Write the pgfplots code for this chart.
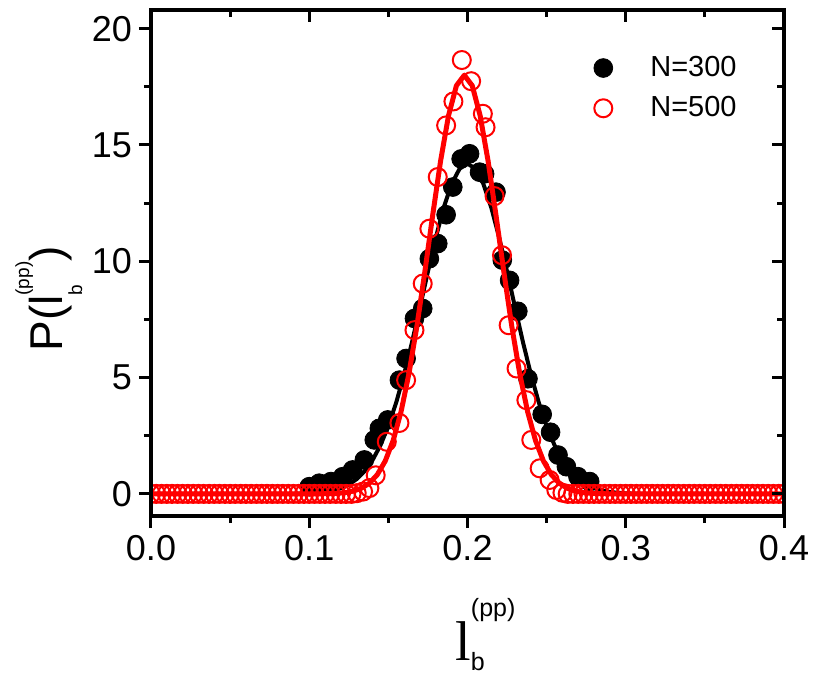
\documentclass[border=0pt]{standalone}
\usepackage{pgfplots}
\pgfplotsset{compat=1.18}
\usepackage{fontspec}
\setmainfont{Liberation Sans}
\newfontfamily\seriffont{Liberation Serif}
\pgfplotsset{mylegend/.style={legend image code/.code={\path[draw=none,fill=none] (0pt,-5pt) rectangle (43pt,5pt); \draw[mark repeat=2,mark phase=2,##1] plot coordinates {(0pt,0pt) (21.5pt,0pt) (43pt,0pt)};}}}
\begin{document}
\begin{tikzpicture}
\begin{axis}[
  at={(0pt,0pt)}, anchor=south west,
  scale only axis, width=316.5pt, height=253pt,
  xmin=0, xmax=0.4, ymin=-0.95, ymax=20.8,
  xtick={0,0.1,0.2,0.3,0.4}, xticklabels={0.0,0.1,0.2,0.3,0.4},
  minor xtick={0.05,0.15,0.25,0.35},
  ytick={0,5,10,15,20}, yticklabels={0,5,10,15,20},
  minor ytick={2.5,7.5,12.5,17.5},
  xtick pos=bottom, ytick pos=left,
  tick align=outside,
  major tick length=6pt, minor tick length=3.5pt,
  tick style={line width=1.5pt, black},
  axis line style={line width=2pt},
  ticklabel style={font=\fontsize{18}{21.6}\selectfont},
  clip marker paths=true,
  legend style={draw=none, fill=none, at={(0.646,0.917)}, anchor=north west,
    inner sep=0pt, font=\fontsize{14.5}{17}\selectfont, row sep=4.5pt,
    nodes={inner sep=2pt}},
  legend cell align=left,
]
\addplot[only marks, mark=*, mark size=4.7pt, black, mylegend] coordinates {
(0.1000,0.31) (0.1063,0.46) (0.1137,0.53) (0.1211,0.74) (0.1274,1.03)
(0.1348,1.46) (0.1411,2.32) (0.1443,2.82) (0.1496,3.18) (0.1570,4.89)
(0.1612,5.82) (0.1665,7.54) (0.1717,7.97) (0.1759,10.11) (0.1812,10.76)
(0.1865,12.00) (0.1907,13.19) (0.1960,14.40) (0.2013,14.62) (0.2076,13.83)
(0.2108,13.76) (0.2180,12.97) (0.2220,10.05) (0.2266,9.18) (0.2318,7.85)
(0.2382,4.95) (0.2472,3.42) (0.2525,2.65) (0.2572,1.67) (0.2625,1.17)
(0.2698,0.74) (0.2772,0.53)
};
\addlegendentry{N=300}
\addplot[forget plot, black, line width=2pt, line join=round] coordinates {
(0,0) (0.09,0.002) (0.10,0.025) (0.105,0.047) (0.11,0.084) (0.115,0.146)
(0.12,0.247) (0.125,0.403) (0.13,0.638) (0.135,0.978) (0.14,1.453)
(0.145,2.091) (0.15,2.916) (0.155,3.939) (0.16,5.156) (0.165,6.538)
(0.17,8.032) (0.175,9.559) (0.18,11.023) (0.185,12.314) (0.19,13.329)
(0.195,13.977) (0.2,14.2) (0.205,13.977) (0.21,13.329) (0.215,12.314)
(0.22,11.023) (0.225,9.559) (0.23,8.032) (0.235,6.538) (0.24,5.156)
(0.245,3.939) (0.25,2.916) (0.255,2.091) (0.26,1.453) (0.265,0.978)
(0.27,0.638) (0.275,0.403) (0.28,0.247) (0.285,0.146) (0.29,0.084)
(0.295,0.047) (0.30,0.025) (0.31,0.002) (0.35,0)
};
\addplot[only marks, mark=o, mark size=4.5pt, red, mark options={line width=1pt}, mylegend] coordinates {
(0.0000,0) (0.0033,0) (0.0067,0) (0.0100,0) (0.0133,0) (0.0167,0) (0.0200,0)
(0.0233,0) (0.0267,0) (0.0300,0) (0.0333,0) (0.0367,0) (0.0400,0) (0.0433,0)
(0.0467,0) (0.0500,0) (0.0533,0) (0.0567,0) (0.0600,0) (0.0633,0) (0.0667,0)
(0.0700,0) (0.0733,0) (0.0767,0) (0.0800,0) (0.0833,0) (0.0867,0) (0.0900,0)
(0.0933,0) (0.0967,0) (0.1000,0) (0.1033,0) (0.1067,0) (0.1100,0) (0.1133,0)
(0.1167,0) (0.1200,0) (0.1233,0) (0.1267,0)
(0.1300,0.03) (0.1340,0.10) (0.1380,0.25) (0.1420,0.80) (0.1490,2.24)
(0.1570,3.05) (0.1612,4.89) (0.1665,7.04) (0.1717,9.04) (0.1759,11.40)
(0.1812,13.62) (0.1865,15.84) (0.1911,16.87) (0.1964,18.65) (0.2023,17.74)
(0.2097,16.34) (0.2114,15.76) (0.2171,12.80) (0.2218,10.26) (0.2260,7.25)
(0.2310,5.39) (0.2372,4.03) (0.2403,2.32) (0.2456,1.10) (0.2519,0.60)
(0.2561,0.17) (0.2600,0.05)
(0.2633,0) (0.2667,0) (0.2700,0) (0.2733,0) (0.2767,0) (0.2800,0) (0.2833,0)
(0.2867,0) (0.2900,0) (0.2933,0) (0.2967,0) (0.3000,0) (0.3033,0) (0.3067,0)
(0.3100,0) (0.3133,0) (0.3167,0) (0.3200,0) (0.3233,0) (0.3267,0) (0.3300,0)
(0.3333,0) (0.3367,0) (0.3400,0) (0.3433,0) (0.3467,0) (0.3500,0) (0.3533,0)
(0.3567,0) (0.3600,0) (0.3633,0) (0.3667,0) (0.3700,0) (0.3733,0) (0.3767,0)
(0.3800,0) (0.3833,0) (0.3867,0) (0.3900,0) (0.3933,0) (0.3967,0) (0.4000,0)
};
\addlegendentry{N=500}
\addplot[forget plot, red, line width=2.5pt, line join=round] coordinates {
(0,0) (0.098,0.001) (0.108,0.005) (0.118,0.027) (0.123,0.059) (0.128,0.123)
(0.133,0.244) (0.138,0.461) (0.143,0.827) (0.148,1.412) (0.153,2.290)
(0.158,3.531) (0.163,5.171) (0.168,7.199) (0.173,9.526) (0.178,11.979)
(0.183,14.315) (0.188,16.257) (0.193,17.548) (0.198,18.0) (0.203,17.548)
(0.208,16.257) (0.213,14.315) (0.218,11.979) (0.223,9.526) (0.228,7.199)
(0.233,5.171) (0.238,3.531) (0.243,2.290) (0.248,1.412) (0.253,0.827)
(0.258,0.461) (0.263,0.244) (0.268,0.123) (0.273,0.059) (0.278,0.027)
(0.288,0.005) (0.298,0.001) (0.4,0)
};
\end{axis}
\begin{axis}[
  at={(0pt,0pt)}, anchor=south west,
  scale only axis, width=316.5pt, height=253pt,
  xmin=0, xmax=0.4, ymin=-0.95, ymax=20.8,
  xtick={0,0.1,0.2,0.3,0.4}, xticklabels={},
  minor xtick={0.05,0.15,0.25,0.35},
  ytick={0,5,10,15,20}, yticklabels={},
  minor ytick={2.5,7.5,12.5,17.5},
  xtick pos=top, ytick pos=right,
  tick align=inside,
  major tick length=6pt, minor tick length=3.5pt,
  tick style={line width=1.5pt, black},
  axis line style={line width=2pt},
]
\end{axis}
\node[rotate=90, anchor=base west, inner sep=0pt, font=\fontsize{23}{27}\selectfont] at (-44pt,82pt)
  {P(l\rlap{\raisebox{-9.5pt}{\fontsize{9.5}{11}\selectfont b}}\raisebox{17pt}{\fontsize{9.5}{11}\selectfont (pp)})};
\node[anchor=base west, inner sep=0pt] at (152pt,-72pt)
  {{\seriffont\fontsize{28}{32}\selectfont l}\rlap{\raisebox{-5pt}{\fontsize{12.5}{15}\selectfont b}}\raisebox{22pt}{\fontsize{12.5}{15}\selectfont (pp)}};
\pgfresetboundingbox
\path[use as bounding box] (-75.5pt,-80.5pt) rectangle (331.5pt,258pt);
\end{tikzpicture}
\end{document}
